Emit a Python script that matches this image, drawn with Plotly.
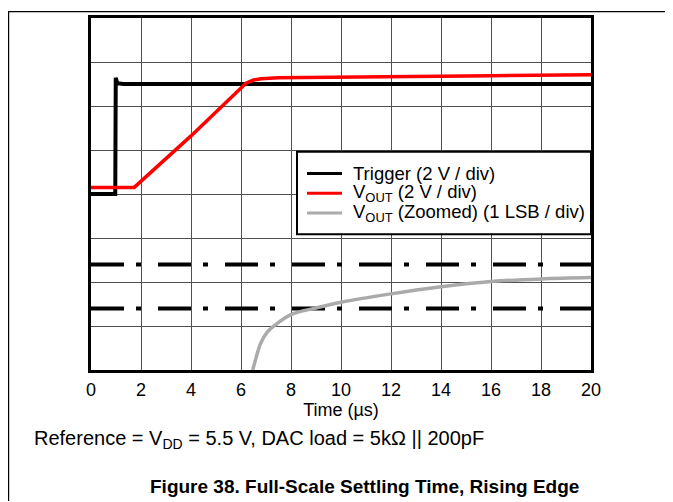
import plotly.graph_objects as go

# ---- data (vertical values in scope divisions, 0 = bottom, 8 = top) ----
time_trigger = [0, 0.97, 0.99, 1.05, 1.3, 20]
trigger_div = [4.0, 4.0, 6.64, 6.52, 6.5, 6.5]

time_vout = [0, 1.73, 4.0, 6.2, 6.5, 6.8, 7.5, 10, 13, 16, 20]
vout_div = [4.15, 4.15, 5.32, 6.52, 6.59, 6.62, 6.64, 6.66, 6.67, 6.69, 6.71]

time_zoom = [6.47, 6.6, 6.78, 7.05, 7.43, 8, 9, 10, 12, 14, 16, 18, 20]
vout_zoom_div = [0, 0.27, 0.6, 0.86, 1.05, 1.26, 1.41, 1.54, 1.73, 1.89, 2.01, 2.07, 2.10]

band_levels = [1.40, 2.40]
x_ticks = [0, 2, 4, 6, 8, 10, 12, 14, 16, 18, 20]

series_names = ["Trigger (2 V / div)",
                "V<sub>OUT</sub> (2 V / div)",
                "V<sub>OUT</sub> (Zoomed) (1 LSB / div)"]
series_colors = ["black", "#ff0000", "#aaaaaa"]

FONT = "Liberation Sans, Arial, Helvetica, sans-serif"

# figure sits at page offset (8, 8) because of the default body margin
W, H = 665, 494
PL, PR, PT, PB = 83, 583, 7, 362   # plot area in figure pixels


def px(x):  # figure pixel -> paper x
    return (x - PL) / (PR - PL)


def py(y):  # figure pixel -> paper y
    return (PB - y) / (PB - PT)


fig = go.Figure()

for lvl in band_levels:
    fig.add_trace(go.Scatter(
        x=[x_ticks[0], x_ticks[-1]], y=[lvl, lvl], mode="lines", showlegend=False,
        line=dict(color="black", width=4, dash="33px,12px,5px,17px"), hoverinfo="skip"))

fig.add_trace(go.Scatter(x=time_trigger, y=trigger_div, mode="lines",
                         name=series_names[0], showlegend=False,
                         line=dict(color=series_colors[0], width=4)))
fig.add_trace(go.Scatter(x=time_vout, y=vout_div, mode="lines",
                         name=series_names[1], showlegend=False,
                         line=dict(color=series_colors[1], width=3.5)))
fig.add_trace(go.Scatter(x=time_zoom, y=vout_zoom_div, mode="lines",
                         name=series_names[2], showlegend=False,
                         line=dict(color=series_colors[2], width=3.5, shape="spline")))

fig.update_layout(
    width=W, height=H,
    margin=dict(l=PL, r=W - PR, t=PT, b=H - PB),
    paper_bgcolor="white", plot_bgcolor="white",
    font=dict(family=FONT, size=18, color="black"),
    showlegend=False,
    xaxis=dict(range=[0, 20], tickvals=x_ticks, ticktext=[str(v) for v in x_ticks],
               showgrid=True, gridcolor="#505050", gridwidth=1.2,
               zeroline=False, showline=True, linecolor="black", linewidth=3, mirror=True,
               ticks="", ticklabelstandoff=1,
               title=dict(text="Time (\u00b5s)", standoff=4, font=dict(size=18))),
    yaxis=dict(range=[0, 8], dtick=1, showticklabels=False,
               showgrid=True, gridcolor="#505050", gridwidth=1.2,
               zeroline=False, showline=True, linecolor="black", linewidth=3, mirror=True,
               ticks=""),
)

# page frame (top rule and left rule)
fig.add_shape(type="line", xref="paper", yref="paper",
              x0=px(0), x1=px(W), y0=py(0.6), y1=py(0.6),
              line=dict(color="black", width=1.2))
fig.add_shape(type="line", xref="paper", yref="paper",
              x0=px(0.6), x1=px(0.6), y0=py(0), y1=py(H),
              line=dict(color="black", width=1.2))

# legend box
fig.add_shape(type="rect", xref="paper", yref="paper",
              x0=px(289), x1=px(583), y0=py(142), y1=py(225),
              fillcolor="white", line=dict(color="black", width=2), layer="above")
row_y = [163.7, 183.7, 203.7]
for name, color, ry in zip(series_names, series_colors, row_y):
    fig.add_shape(type="line", xref="paper", yref="paper",
                  x0=px(299), x1=px(334), y0=py(ry), y1=py(ry),
                  line=dict(color=color, width=3), layer="above")
    fig.add_annotation(xref="paper", yref="paper", x=px(343), y=py(ry),
                       xanchor="left", yanchor="middle", showarrow=False,
                       text=name, font=dict(family=FONT, size=18.5, color="black"))

fig.add_annotation(xref="paper", yref="paper", x=px(24), y=py(432),
                   xanchor="left", yanchor="middle", showarrow=False,
                   text="Reference = V<sub>DD</sub> = 5.5 V, DAC load = 5k\u03a9 || 200pF",
                   font=dict(family=FONT, size=20, color="black"))
fig.add_annotation(xref="paper", yref="paper", x=px(356.5), y=py(479),
                   xanchor="center", yanchor="middle", showarrow=False,
                   text="<b>Figure 38. Full-Scale Settling Time, Rising Edge</b>",
                   font=dict(family=FONT, size=19, color="black"))

fig.write_html("out.html")
